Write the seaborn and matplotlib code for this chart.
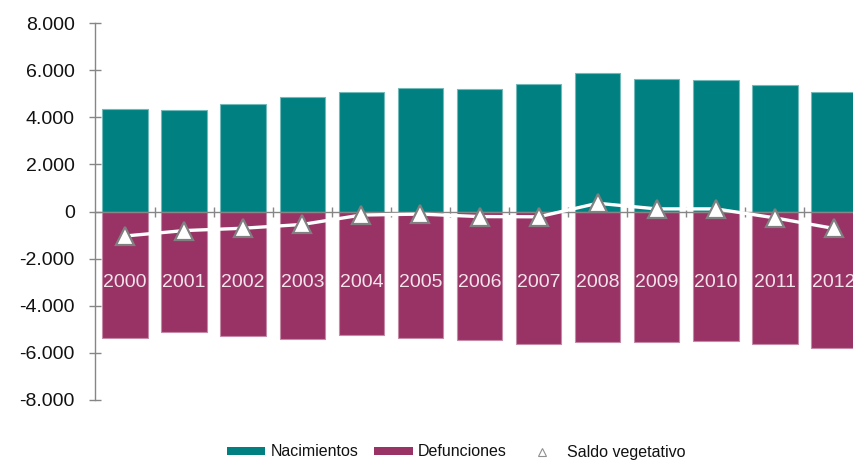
import matplotlib
matplotlib.use('Agg')
import matplotlib.pyplot as plt
import seaborn as sns
import pandas as pd
from matplotlib.patches import Patch
from matplotlib.lines import Line2D
from matplotlib.ticker import FuncFormatter

years = ['2000', '2001', '2002', '2003', '2004', '2005', '2006',
         '2007', '2008', '2009', '2010', '2011', '2012']
nacimientos = [4340, 4300, 4560, 4870, 5080, 5250, 5210, 5400, 5860, 5610, 5570, 5360, 5080]
defunciones = [-5380, -5110, -5290, -5420, -5250, -5380, -5450, -5630, -5550, -5550, -5490, -5630, -5800]
saldo = [-1040, -810, -710, -550, -150, -110, -215, -225, 350, 110, 110, -270, -720]
yticks = [-8000, -6000, -4000, -2000, 0, 2000, 4000, 6000, 8000]
legend_labels = ['Nacimientos', 'Defunciones', 'Saldo vegetativo']

TEAL = '#008080'
PLUM = '#993366'
GRAY = '#868686'

sns.set_style('white')
plt.rcParams['font.family'] = ['Liberation Sans', 'DejaVu Sans']

df = pd.DataFrame({'Año': years, 'Nacimientos': nacimientos,
                   'Defunciones': defunciones, 'Saldo': saldo})

fig = plt.figure(figsize=(8.54, 4.62), dpi=100)
ax = fig.add_axes([95.5 / 854, 62 / 462, 768 / 854, 377 / 462])

sns.barplot(data=df, x='Año', y='Nacimientos', color=TEAL, saturation=1,
            width=0.77, edgecolor='#72b9b9', linewidth=0.8, errorbar=None, ax=ax)
sns.barplot(data=df, x='Año', y='Defunciones', color=PLUM, saturation=1,
            width=0.77, edgecolor='#c48aa6', linewidth=0.8, errorbar=None, ax=ax)
sns.pointplot(data=df, x='Año', y='Saldo', color='white', markers='^',
              linestyles='-', errorbar=None, ax=ax)
for ln in ax.lines:
    ln.set_linewidth(2.4)
    ln.set_color('white')
    ln.set_markerfacecolor('white')
    ln.set_markeredgecolor('#808080')
    ln.set_markeredgewidth(1.6)
    ln.set_markersize(13)
    ln.set_zorder(5)

for i, y in enumerate(years):
    ax.text(i, -3030, y, ha='center', va='center', color='#f3e4eb',
            fontsize=14, zorder=4)

ax.set_xlim(-0.5, 12.5)
ax.set_ylim(-8000, 8000)
ax.set_yticks(yticks)
ax.yaxis.set_major_formatter(FuncFormatter(lambda v, p: f"{int(v):,}".replace(',', '.')))
ax.set_xticks([i + 0.5 for i in range(12)])
ax.set_xticklabels([])
ax.set_xlabel('')
ax.set_ylabel('')

for s in ['top', 'right']:
    ax.spines[s].set_visible(False)
ax.spines['left'].set_color(GRAY)
ax.spines['left'].set_linewidth(1)
ax.spines['bottom'].set_position(('data', 0))
ax.spines['bottom'].set_color(GRAY)
ax.spines['bottom'].set_linewidth(1)
ax.spines['bottom'].set_zorder(3)

ax.tick_params(axis='y', direction='inout', length=9, width=1, color=GRAY,
               labelsize=14, labelcolor='#111111', pad=10.5, left=True)
ax.tick_params(axis='x', direction='inout', length=7, width=1, color=GRAY,
               bottom=True, labelbottom=False)

handles = [Patch(facecolor=TEAL, edgecolor='none'),
           Patch(facecolor=PLUM, edgecolor='none'),
           Line2D([], [], linestyle='none', marker='^', markerfacecolor='white',
                  markeredgecolor='#909090', markersize=6, markeredgewidth=0.8)]
fig.legend(handles, legend_labels, loc='center', bbox_to_anchor=(456 / 854, 1 - 452 / 462),
           ncol=3, frameon=False, fontsize=11.5, handlelength=2.4, handleheight=0.4,
           handletextpad=0.33, columnspacing=1.0, labelcolor='#111111')

fig.savefig('out.png', dpi=100)
